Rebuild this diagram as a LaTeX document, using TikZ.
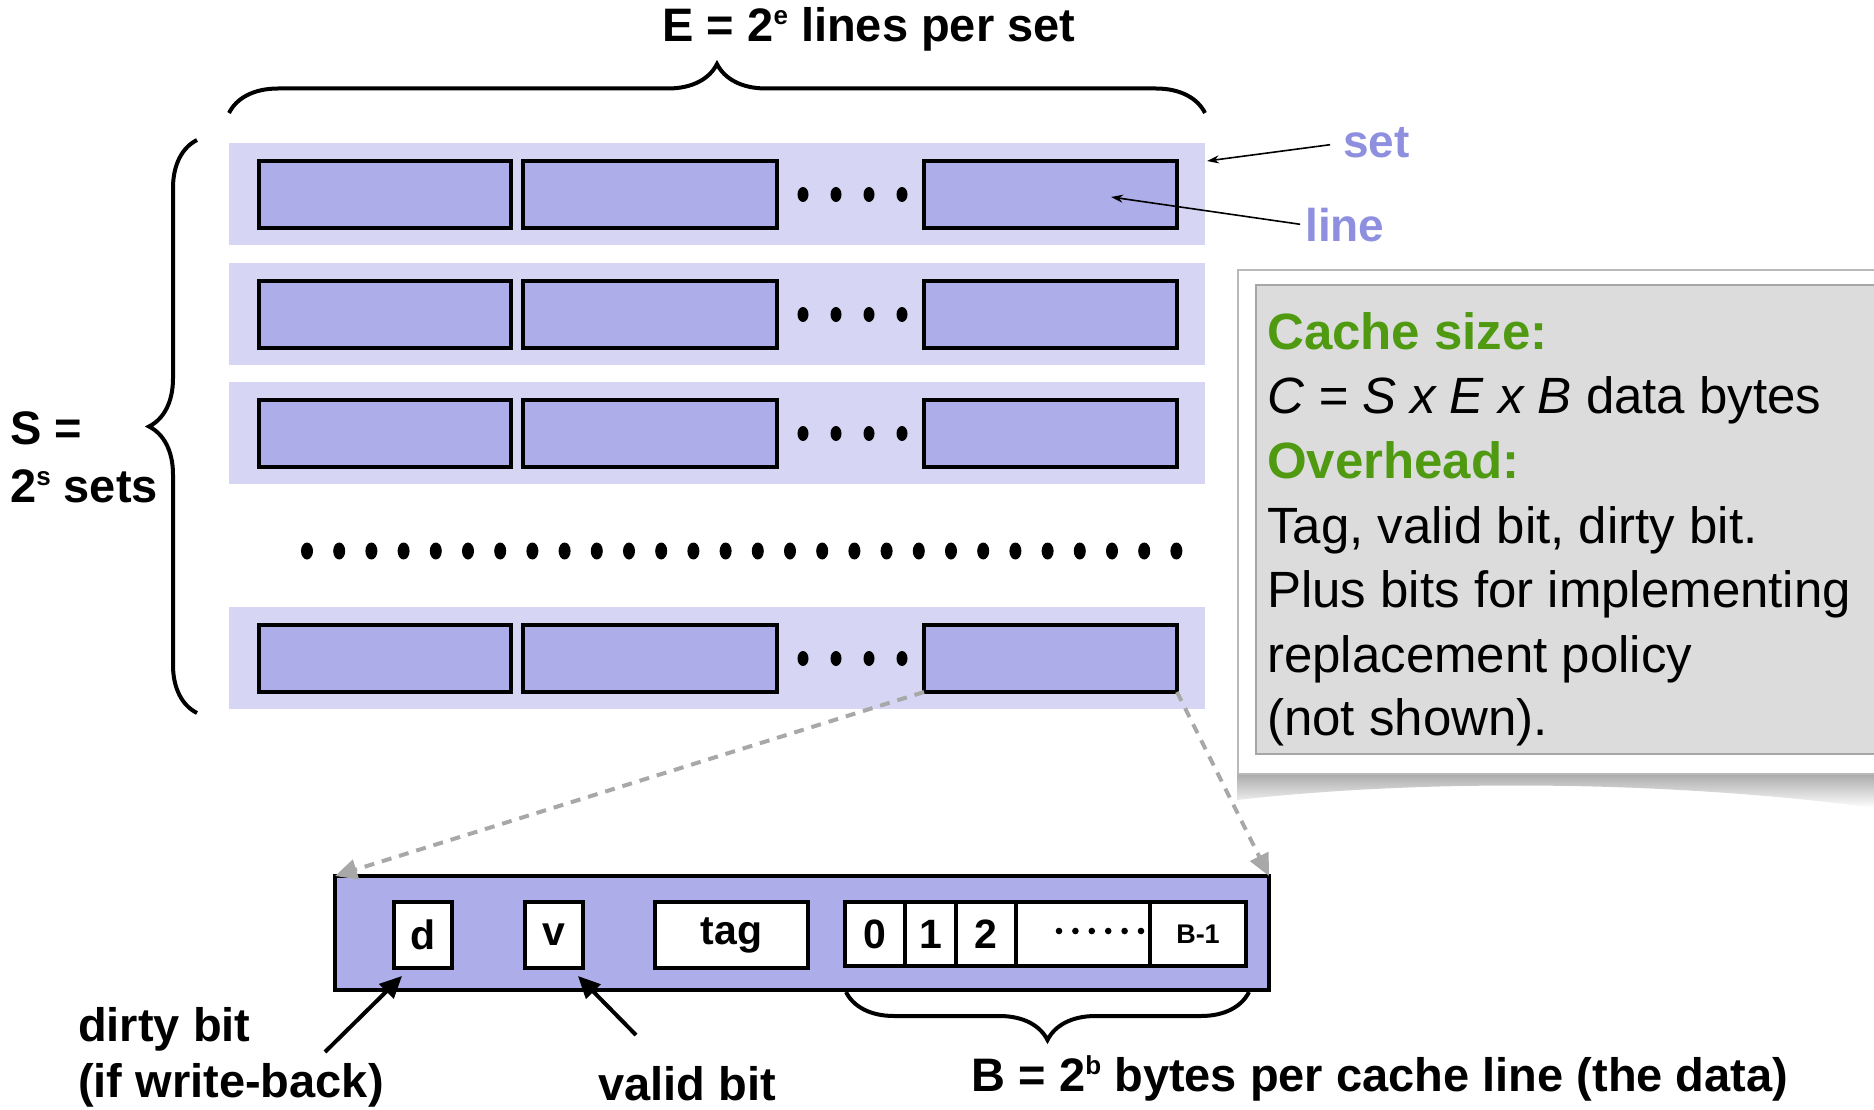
\documentclass[tikz,border=0pt]{standalone}
\usepackage{fontspec}
\setmainfont{Liberation Sans}
\usetikzlibrary{decorations.pathreplacing,arrows.meta}
\definecolor{setfill}{RGB}{214,214,244}
\definecolor{linefill}{RGB}{173,173,234}
\definecolor{lblpurple}{RGB}{143,143,224}
\definecolor{boxgray}{RGB}{220,220,220}
\definecolor{hdgreen}{RGB}{79,154,16}
\definecolor{dashgray}{RGB}{168,168,168}
\newcommand\mysup[1]{\raisebox{17pt}{\fontsize{26}{26}\selectfont #1}}
\begin{document}
\begin{tikzpicture}[x=1pt,y=-1pt,
  setbox/.style={fill=setfill, draw=none, minimum width=976, minimum height=102, anchor=north west, inner sep=0, outer sep=0},
  linebox/.style={fill=linefill, draw=black, line width=4, minimum height=67, anchor=north west, inner sep=0, outer sep=0},
  cellbox/.style={fill=white, draw=black, line width=4, minimum height=64, anchor=north west, inner sep=0, outer sep=0, font=\bfseries\fontsize{41}{46}\selectfont},
  bigtxt/.style={font=\bfseries\fontsize{47}{50}\selectfont, inner sep=0},
  bracestyle/.style={line width=4, decorate},
  paneltxt/.style={anchor=base west, inner sep=0, font=\fontsize{51}{60}\selectfont},
  panelhd/.style={paneltxt, text=hdgreen, font=\bfseries\fontsize{51}{60}\selectfont},
  thinarrow/.style={line width=1.6, -{Stealth[length=12,width=8]}},
  thickarrow/.style={line width=4, -{Triangle[length=22,width=20]}},
  dasharrow/.style={line width=4, draw=dashgray, dash pattern=on 10 off 8, -{Triangle[length=22,width=20,fill=dashgray]}}
]
\useasboundingbox (0,0) rectangle (1874,1110);

% ---- title and top brace
\node[bigtxt] (Elabel) at (869,29) {E = 2\mysup{e} lines per set};
\draw[bracestyle, decoration={brace,amplitude=49}] (229,113) -- (1205,113);

% ---- left brace and label
\draw[bracestyle, decoration={brace,amplitude=48}] (197,713) -- (197,140);
\node[anchor=west, bigtxt] (Slabel1) at (10,428) {S =};
\node[anchor=west, bigtxt] (Slabel2) at (10,486) {2\mysup{s} sets};

% ---- sets
\foreach \n/\t in {1/143,2/263,3/382,4/607}{
  \node[setbox] (set\n) at (229,\t) {};
  \node[linebox, minimum width=252] (set\n l1) at (259,\t+18) {};
  \node[linebox, minimum width=254] (set\n l2) at (523,\t+18) {};
  \node[linebox, minimum width=253] (set\n l3) at (924,\t+18) {};
  \foreach \k in {0,1,2,3}{
    \fill (803+\k*33,\t+51.5) ellipse (5.5 and 7.5);
  }
}

% ---- big dot row
\foreach \k in {0,...,27}{
  \fill (307+\k*32.2,551) ellipse (6 and 8.5);
}

% ---- set / line labels
\node[anchor=west, bigtxt, text=lblpurple, font=\bfseries\fontsize{46}{50}\selectfont] (setlbl) at (1343,143) {set};
\node[anchor=west, bigtxt, text=lblpurple, font=\bfseries\fontsize{46}{50}\selectfont] (linelbl) at (1305,225) {line};
\coordinate (setpt) at (1207,161);
\coordinate (linept) at (1111,197);
\draw[thinarrow, shorten <=13] (setlbl.west) -- (setpt);
\draw[thinarrow, shorten <=5] (linelbl.west) -- (linept);

% ---- info panel with shadow
\shade[top color=gray!70, bottom color=white] (1237,772) -- (1874,772) -- (1874,808)
   .. controls (1700,784) and (1450,776) .. (1237,800) -- cycle;
\node[draw=gray!55, fill=white, line width=1.5, minimum width=700, minimum height=504, anchor=north west, inner sep=0] (frame) at (1237,269) {};
\node[draw=gray!70, fill=boxgray, line width=1.5, minimum width=680, minimum height=469, anchor=north west, inner sep=0] (panel) at (1255,284) {};
\node[panelhd] (p1) at (1267,349) {Cache size:};
\node[paneltxt] (p2) at (1267,413) {\itshape C = S x E x B\upshape\ data bytes};
\node[panelhd] (p3) at (1267,478) {Overhead:};
\node[paneltxt] (p4) at (1267,543) {Tag, valid bit, dirty bit.};
\node[paneltxt] (p5) at (1267,607) {Plus bits for implementing};
\node[paneltxt] (p6) at (1267,672) {replacement policy};
\node[paneltxt] (p7) at (1267,735) {(not shown).};

% ---- detailed cache line
\node[fill=linefill, draw=black, line width=4, minimum width=934, minimum height=114, anchor=north west, inner sep=0, outer sep=0] (detail) at (335,876) {};
\node[cellbox, minimum width=58, minimum height=66] (dcell) at (394,902) {d};
\node[cellbox, minimum width=58, minimum height=66] (vcell) at (525,902) {v};
\node[cellbox, minimum width=153, minimum height=66] (tagcell) at (655,902) {tag};
\node[cellbox, minimum width=60] (b0) at (845,902) {0};
\node[cellbox, minimum width=51] (b1) at (905,902) {1};
\node[cellbox, minimum width=60] (b2) at (956,902) {2};
\node[cellbox, minimum width=134] (bdots) at (1016,902) {};
\node[cellbox, minimum width=96, font=\bfseries\fontsize{27}{30}\selectfont] (bB) at (1150,902) {B-1};
\foreach \k in {0,...,5}{
  \fill (1059+\k*16.4,931) circle (3.3);
}

% ---- dashed zoom arrows
\draw[dasharrow] (set4l3.south west) -- (detail.north west);
\draw[dasharrow] (set4l3.south east) -- (detail.north east);

% ---- bottom brace
\draw[bracestyle, decoration={brace,amplitude=48}] (1249,992) -- (846,992);

% ---- bottom labels
\node[bigtxt, anchor=west] (dirty1) at (78,1029) {dirty bit};
\node[bigtxt, anchor=west] (dirty2) at (78,1085) {(if write-back)};
\node[bigtxt] (validlbl) at (687,1084) {valid bit};
\node[bigtxt] (Blabel) at (1380,1078) {B = 2\mysup{b} bytes per cache line (the data)};
\coordinate (dtail) at (325,1052);
\coordinate (dhead) at (402,976);
\coordinate (vtail) at (636,1035);
\coordinate (vhead) at (578,976);
\draw[thickarrow] (dtail) -- (dhead);
\draw[thickarrow] (vtail) -- (vhead);
\end{tikzpicture}
\end{document}
